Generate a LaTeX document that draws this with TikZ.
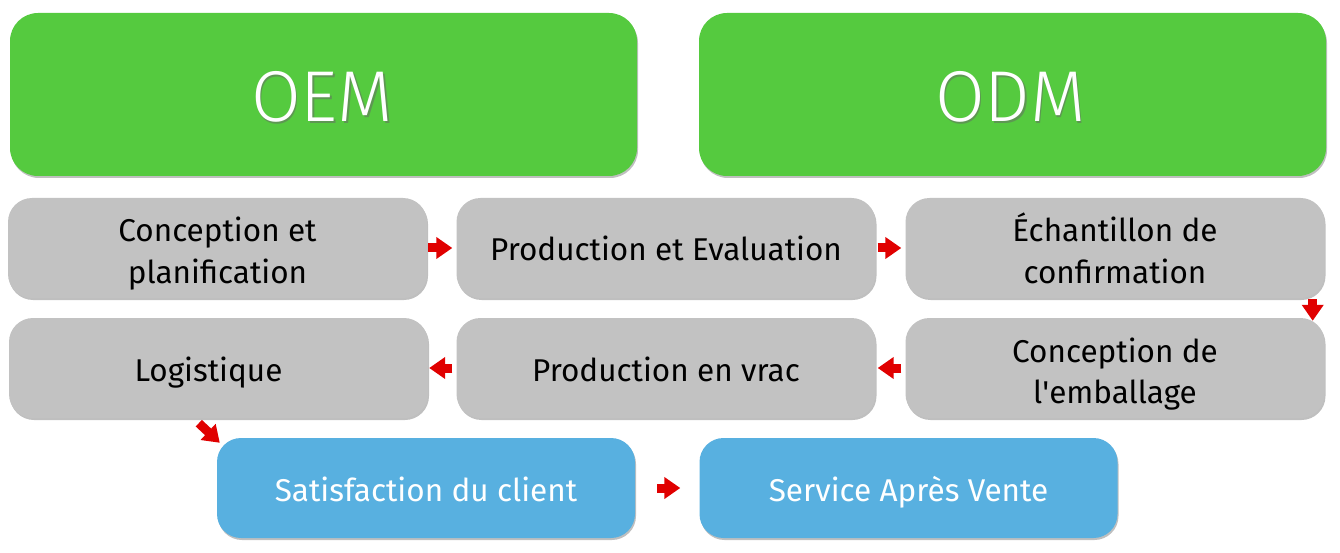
\documentclass[tikz,border=0pt]{standalone}
\usepackage{fontspec}
\setmainfont{Fira Sans}
\newfontfamily\lightfont{Fira Sans Light}
\usetikzlibrary{shadows,arrows.meta,calc}
\definecolor{oemgreen}{HTML}{55CA3F}
\definecolor{boxgray}{HTML}{C2C2C2}
\definecolor{boxblue}{HTML}{58B0E0}
\definecolor{arrred}{HTML}{E00000}
\newcommand{\lineone}[1]{\raisebox{-13pt}[0pt][0pt]{#1}}
\newcommand{\linetwo}[2]{\raisebox{6pt}[0pt][0pt]{\begin{tabular}[t]{@{}c@{}}#1\\#2\end{tabular}}}
\tikzset{
  base/.style={rounded corners=24pt, inner sep=0pt, align=center,
    drop shadow={shadow xshift=1pt, shadow yshift=-2pt, opacity=0.25, fill=black}},
  headbox/.style={base, fill=oemgreen, minimum width=627pt, minimum height=163pt, rounded corners=28pt},
  graybox/.style={base, fill=boxgray, minimum width=419pt, minimum height=100pt,
    font=\fontsize{31.5}{41}\selectfont, text=black},
  bluebox/.style={base, fill=boxblue, minimum width=418pt, minimum height=100pt,
    font=\fontsize{31.5}{41}\selectfont, text=white},
  headtext/.style={font=\lightfont\fontsize{72}{76}\selectfont},
  arr/.style={draw=arrred, line width=9pt, -{Triangle[length=16pt,width=21pt]}},
}
\begin{document}
\begin{tikzpicture}[x=1pt,y=-1pt]
\useasboundingbox (0,0) rectangle (1340,553);
% header boxes
\node[headbox] (oem) at (323.5,94.5) {};
\node[headbox] (odm) at (1012.5,94.5) {};
\node[headtext, text=white] (oemt) at (323,98)
  {\tikz[baseline]{\node[inner sep=0pt, text=black!60, opacity=0.5] at (1.5pt,-2pt) {OEM};
   \node[inner sep=0pt] at (0,0) {OEM};}};
\node[headtext, text=white] (odmt) at (1011,98)
  {\tikz[baseline]{\node[inner sep=0pt, text=black!60, opacity=0.5] at (1.5pt,-2pt) {ODM};
   \node[inner sep=0pt] at (0,0) {ODM};}};
% row 1
\node[graybox] (conc) at (217.5,248) {\linetwo{Conception et}{planification}};
\node[graybox] (prod) at (666,248) {\lineone{Production et Evaluation}};
\node[graybox] (ech) at (1115,248) {\linetwo{Échantillon de}{confirmation}};
% row 2
\node[graybox] (log) at (218.5,368) {\lineone{\hspace*{-20pt}Logistique}};
\node[graybox] (vrac) at (666,368) {\lineone{Production en vrac}};
\node[graybox] (emb) at (1115,368) {\linetwo{Conception de}{l\textquotesingle emballage}};
% row 3
\node[bluebox] (sat) at (426,488) {\lineone{Satisfaction du client}};
\node[bluebox] (sav) at (908.5,488) {\lineone{Service Après Vente}};
% arrows
\draw[arr] ($(conc.east)+(1,0)$) -- ($(prod.west)+(-4,0)$);
\draw[arr] ($(prod.east)+(2,0)$) -- ($(ech.west)+(-4,0)$);
\draw[arr] ($(ech.south east)+(-12,1)$) -- ($(emb.north east)+(-12,3)$);
\draw[arr] ($(emb.west)+(-4,0)$) -- ($(vrac.east)+(2,0)$);
\draw[arr] ($(vrac.west)+(-4,0)$) -- ($(log.east)+(1,0)$);
\draw[arr] ($(log.south west)+(190,5)$) -- ($(sat.north west)+(3,5)$);
\draw[arr] ($(sat.east)+(22,0)$) -- ($(sav.west)+(-19,0)$);
\end{tikzpicture}
\end{document}
